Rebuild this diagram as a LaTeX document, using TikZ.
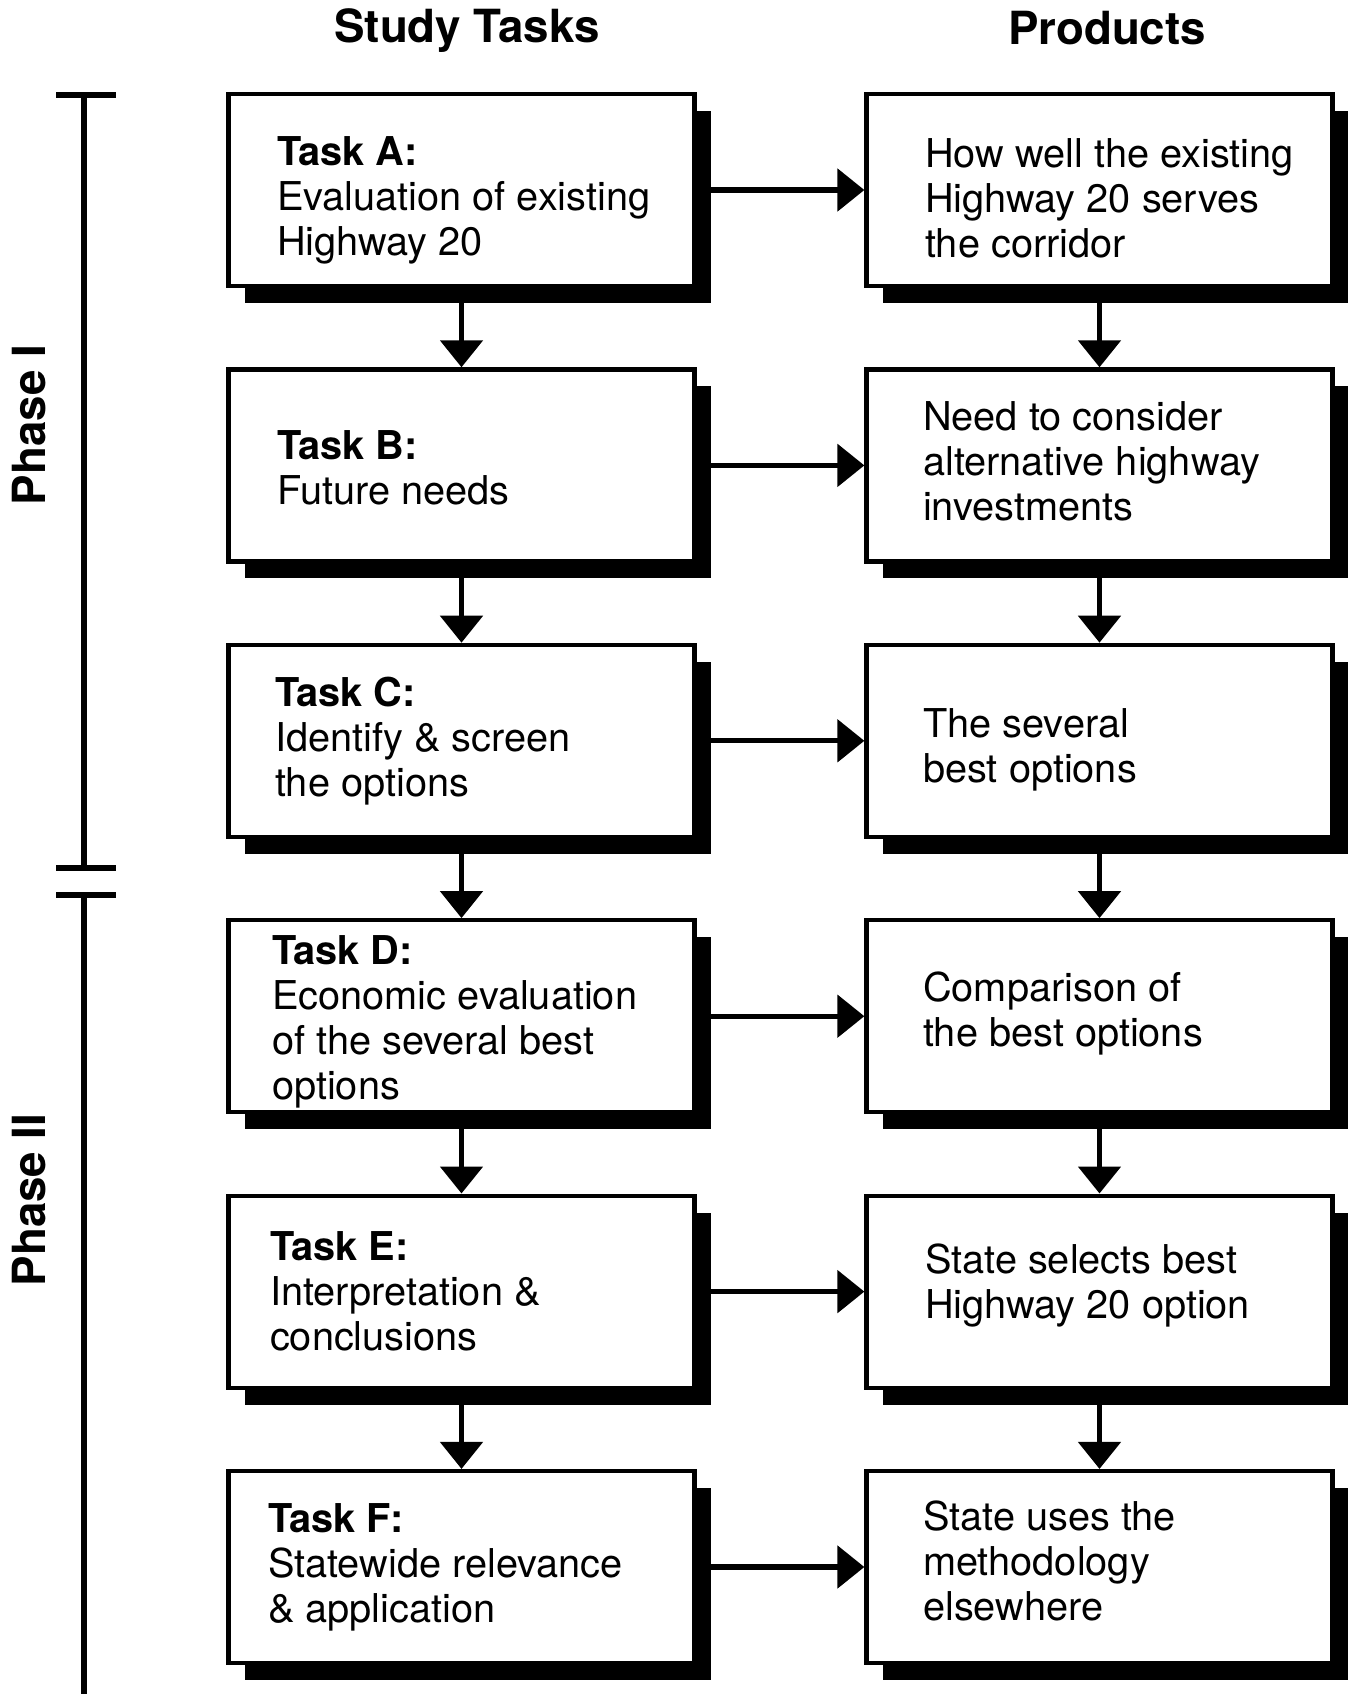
\documentclass[tikz,border=0pt]{standalone}
\usepackage{fontspec}
\setmainfont{TeX Gyre Heros}
\usetikzlibrary{positioning,shadows,arrows.meta}

\begin{document}
\begin{tikzpicture}[
                >={Triangle[length=2.7mm,width=4.2mm]},
                every node/.style={font=\fontsize{11.3}{12.8}\selectfont},
                box/.style={draw, rectangle, line width=1.2pt, fill=white,
                    minimum width=4.66cm, minimum height=1.92cm,
                    drop shadow={shadow xshift=0.16cm, shadow yshift=-0.17cm, fill=black, opacity=1}},
                boxtext/.style={align=left, inner sep=0pt},
                head/.style={font=\bfseries\fontsize{13}{15}\selectfont},
                link/.style={->, line width=1.5pt},
                bar/.style={line width=1.5pt}
                ]

                \useasboundingbox (0,0) rectangle (13.47,-16.94);

                % column titles
                \node [head] (tasks) at (4.67,-0.31) {Study Tasks};
                \node [head] (products) at (11.07,-0.28) {Products};

                % study tasks
                \node [box] (taskA) at (4.615,-1.90) {};
                \node [box] (taskB) at (4.615,-4.654) {};
                \node [box] (taskC) at (4.615,-7.408) {};
                \node [box] (taskD) at (4.615,-10.162) {};
                \node [box] (taskE) at (4.615,-12.916) {};
                \node [box] (taskF) at (4.615,-15.67) {};

                % products
                \node [box] (prodA) at (10.995,-1.90) {};
                \node [box] (prodB) at (10.995,-4.654) {};
                \node [box] (prodC) at (10.995,-7.408) {};
                \node [box] (prodD) at (10.995,-10.162) {};
                \node [box] (prodE) at (10.995,-12.916) {};
                \node [box] (prodF) at (10.995,-15.67) {};

                \node [boxtext, right=0.5cm of taskA.west, yshift=-0.10cm] (taskAtext) {\textbf{Task A:}\\Evaluation of existing\\Highway 20};
                \node [boxtext, right=0.5cm of taskB.west, yshift=-0.02cm] (taskBtext) {\textbf{Task B:}\\Future needs};
                \node [boxtext, right=0.48cm of taskC.west] (taskCtext) {\textbf{Task C:}\\Identify \& screen\\the options};
                \node [boxtext, right=0.45cm of taskD.west, yshift=-0.06cm] (taskDtext) {\textbf{Task D:}\\Economic evaluation\\of the several best\\options};
                \node [boxtext, right=0.43cm of taskE.west] (taskEtext) {\textbf{Task E:}\\Interpretation \&\\conclusions};
                \node [boxtext, right=0.41cm of taskF.west] (taskFtext) {\textbf{Task F:}\\Statewide relevance\\\& application};

                \node [boxtext, right=0.6cm of prodA.west, yshift=-0.08cm] (prodAtext) {How well the existing\\Highway 20 serves\\the corridor};
                \node [boxtext, right=0.58cm of prodB.west, yshift=0.04cm] (prodBtext) {Need to consider\\alternative highway\\investments};
                \node [boxtext, right=0.58cm of prodC.west, yshift=-0.09cm] (prodCtext) {The several\\best options};
                \node [boxtext, right=0.58cm of prodD.west, yshift=0.03cm] (prodDtext) {Comparison of\\the best options};
                \node [boxtext, right=0.6cm of prodE.west, yshift=0.06cm] (prodEtext) {State selects best\\Highway 20 option};
                \node [boxtext, right=0.58cm of prodF.west, yshift=0.06cm] (prodFtext) {State uses the\\methodology\\elsewhere};

                % tasks to products
                \draw [link] (taskA) -- (prodA);
                \draw [link] (taskB) -- (prodB);
                \draw [link] (taskC) -- (prodC);
                \draw [link] (taskD) -- (prodD);
                \draw [link] (taskE) -- (prodE);
                \draw [link] (taskF) -- (prodF);

                % down the columns
                \draw [link] (taskA) -- (taskB);
                \draw [link] (taskB) -- (taskC);
                \draw [link] (taskC) -- (taskD);
                \draw [link] (taskD) -- (taskE);
                \draw [link] (taskE) -- (taskF);
                \draw [link] (prodA) -- (prodB);
                \draw [link] (prodB) -- (prodC);
                \draw [link] (prodC) -- (prodD);
                \draw [link] (prodD) -- (prodE);
                \draw [link] (prodE) -- (prodF);

                % phases
                \draw [bar] (0.56,-0.95) -- (1.16,-0.95) (0.84,-0.95) -- (0.84,-8.68) (0.56,-8.68) -- (1.16,-8.68);
                \draw [bar] (0.56,-8.95) -- (1.16,-8.95) (0.84,-8.95) -- (0.84,-16.94);
                \node [head, rotate=90] (phaseI) at (0.29,-4.25) {Phase I};
                \node [head, rotate=90] (phaseII) at (0.29,-12.00) {Phase II};
            \end{tikzpicture}
\end{document}
